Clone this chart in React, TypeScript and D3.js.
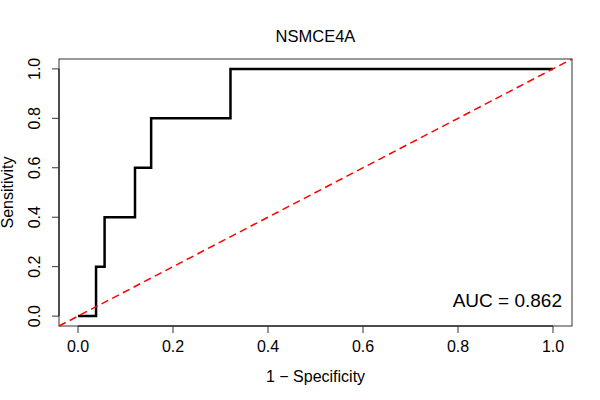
import * as d3 from 'd3';

// ROC step points (1 - specificity, sensitivity)
const fpr = [0, 0.038, 0.038, 0.056, 0.056, 0.12, 0.12, 0.154, 0.154, 0.321, 0.321, 1.0];
const tpr = [0, 0, 0.2, 0.2, 0.4, 0.4, 0.6, 0.6, 0.8, 0.8, 1.0, 1.0];
const ticks = [0, 0.2, 0.4, 0.6, 0.8, 1.0];
const title = 'NSMCE4A';
const aucLabel = 'AUC = 0.862';

export default function App() {
  const W = 600, H = 400;
  const pad = { left: 59, right: 28, top: 59, bottom: 74 };
  const x = d3.scaleLinear().domain([-0.04, 1.04]).range([pad.left, W - pad.right]);
  const y = d3.scaleLinear().domain([-0.04, 1.04]).range([H - pad.bottom, pad.top]);
  const pts = fpr.map((f, i) => [f, tpr[i]] as [number, number]);
  const line = d3.line<[number, number]>().x(d => x(d[0])).y(d => y(d[1]));
  const font = '"Liberation Sans", Arial, sans-serif';

  return (
    <svg width={W} height={H} style={{ position: 'absolute', left: 0, top: 0, background: '#fff' }} fontFamily={font}>
      <text x={(x(-0.04) + x(1.04)) / 2} y={38} textAnchor="middle" dominantBaseline="middle" fontSize={16.5}>{title}</text>
      {/* plot box */}
      <rect x={x(-0.04)} y={y(1.04)} width={x(1.04) - x(-0.04)} height={y(-0.04) - y(1.04)} fill="none" stroke="#333" strokeWidth={1} />
      {/* x axis */}
      <line x1={x(0)} x2={x(1)} y1={y(-0.04)} y2={y(-0.04)} stroke="#000" />
      {ticks.map(t => (
        <g key={'x' + t}>
          <line x1={x(t)} x2={x(t)} y1={y(-0.04)} y2={y(-0.04) + 7} stroke="#333" />
          <text x={x(t)} y={348} textAnchor="middle" dominantBaseline="middle" fontSize={16}>{t.toFixed(1)}</text>
        </g>
      ))}
      {/* y axis */}
      <line x1={x(-0.04)} x2={x(-0.04)} y1={y(0)} y2={y(1)} stroke="#000" />
      {ticks.map(t => (
        <g key={'y' + t}>
          <line x1={x(-0.04)} x2={x(-0.04) - 7} y1={y(t)} y2={y(t)} stroke="#333" />
          <text transform={`translate(36,${y(t)}) rotate(-90)`} textAnchor="middle" dominantBaseline="middle" fontSize={16}>{t.toFixed(1)}</text>
        </g>
      ))}
      <text x={(x(-0.04) + x(1.04)) / 2} y={378} textAnchor="middle" dominantBaseline="middle" fontSize={16}>1 − Specificity</text>
      <text transform={`translate(9,${(y(-0.04) + y(1.04)) / 2}) rotate(-90)`} textAnchor="middle" dominantBaseline="middle" fontSize={16}>Sensitivity</text>
      {/* ROC curve */}
      <path d={line(pts) ?? ''} fill="none" stroke="#000" strokeWidth={2.5} />
      {/* reference diagonal */}
      <line x1={x(-0.04)} y1={y(-0.04)} x2={x(1.04)} y2={y(1.04)} stroke="#ff0000" strokeWidth={1.5} strokeDasharray="7.5,4.5" />
      <text x={562} y={302} textAnchor="end" dominantBaseline="middle" fontSize={19}>{aucLabel}</text>
    </svg>
  );
}
